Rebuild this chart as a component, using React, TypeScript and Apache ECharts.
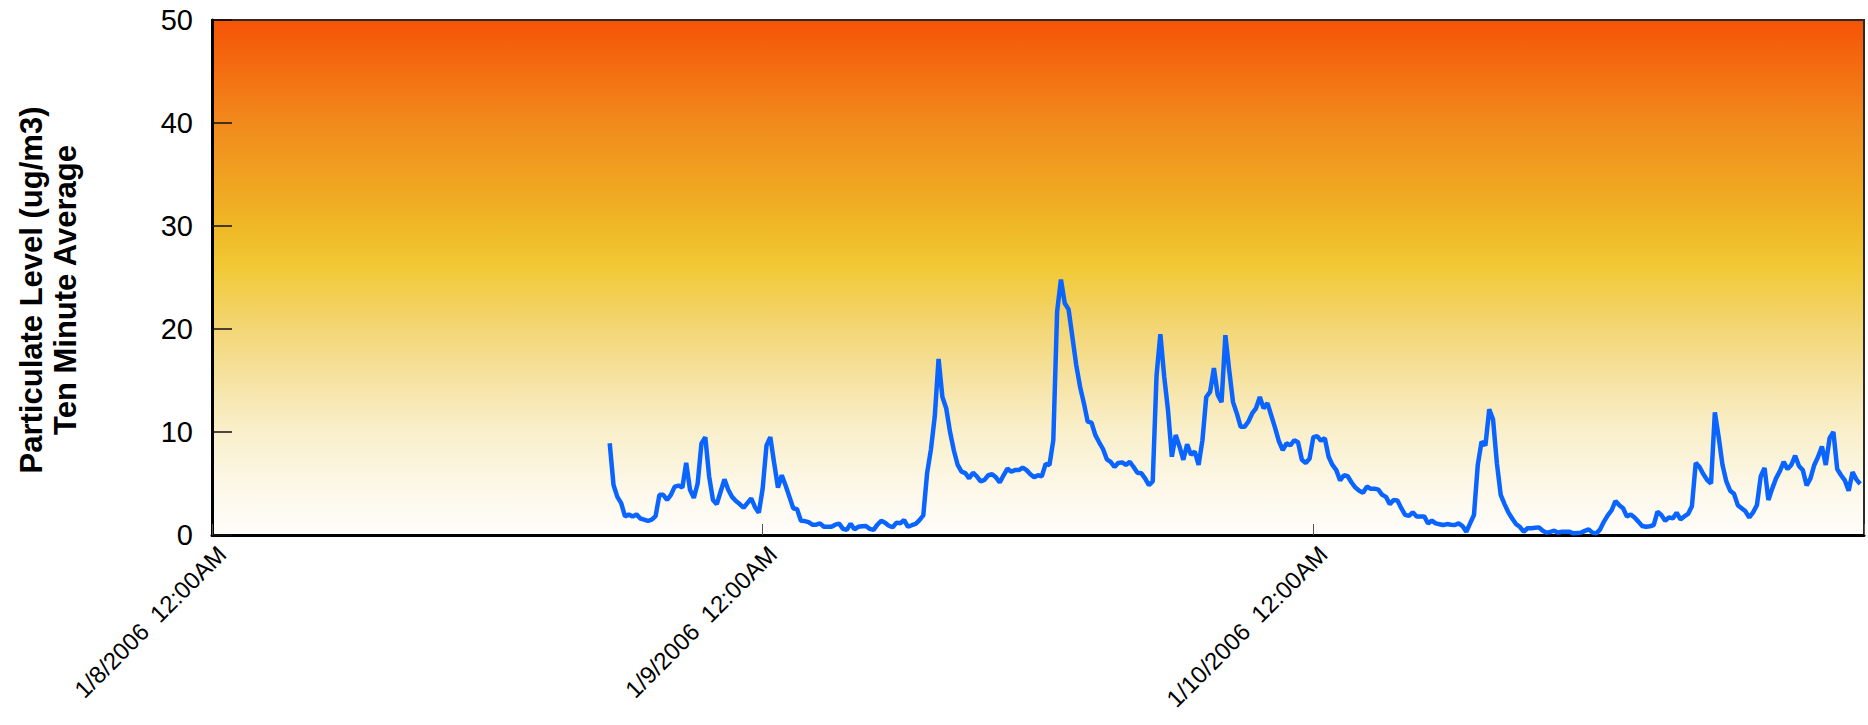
import React, { useEffect, useRef } from "react";
import * as echarts from "echarts";

// Ten-minute averages.
// 1/8/2006 from 17:20 to 23:50
const jan8Values = [
  8.9, 4.85, 3.7, 3.1, 1.8, 2.0, 1.8, 2.0, 1.6, 1.5,
  1.36, 1.5, 1.84, 3.9, 3.9, 3.4, 3.9, 4.7, 4.8, 4.6,
  7.0, 4.4, 3.6, 5.0, 8.9, 9.5, 5.7, 3.4, 3.0, 4.2,
  5.4, 4.4, 3.7, 3.3, 3.0, 2.65, 3.1, 3.55, 2.7, 2.17,
];
// 1/9/2006 from 00:00 to 23:50
const jan9Values = [
  4.5, 8.7, 9.5, 7.0, 4.6, 5.8, 4.8, 3.7, 2.6, 2.5,
  1.39, 1.35, 1.25, 1.0, 1.0, 1.13, 0.8, 0.8, 0.8, 1.0,
  1.1, 0.6, 0.5, 1.1, 0.55, 0.8, 0.85, 0.87, 0.6, 0.5,
  1.0, 1.39, 1.2, 0.9, 0.75, 1.2, 1.15, 1.45, 0.8, 0.95,
  1.07, 1.45, 1.9, 6.0, 8.3, 11.5, 17.1, 13.4, 12.3, 10.0,
  8.2, 6.8, 6.15, 6.0, 5.5, 6.05, 5.7, 5.2, 5.35, 5.8,
  5.9, 5.6, 5.1, 5.8, 6.45, 6.15, 6.3, 6.3, 6.55, 6.3,
  5.9, 5.6, 5.8, 5.7, 6.9, 6.8, 9.2, 21.7, 24.8, 22.5,
  21.9, 19.2, 16.5, 14.4, 12.8, 11.0, 10.9, 9.7, 9.0, 8.35,
  7.35, 7.1, 6.6, 7.0, 7.05, 6.8, 7.1, 6.6, 6.05, 6.0,
  5.5, 4.85, 5.2, 15.5, 19.5, 15.4, 12.1, 7.6, 9.7, 8.6,
  7.3, 8.8, 7.8, 8.1, 6.8, 9.2, 13.4, 13.9, 16.2, 13.6,
  12.9, 19.4, 16.0, 12.9, 11.8, 10.5, 10.5, 11.0, 11.8, 12.3,
  13.4, 12.3, 12.8, 11.6, 10.4, 9.1, 8.25, 8.9, 8.7, 9.2,
  9.0, 7.3, 7.0, 7.4,
];
// 1/10/2006 from 00:00 to 23:50
const jan10Values = [
  9.5, 9.6, 9.15, 9.4, 7.6, 6.8,
  6.3, 5.3, 5.8, 5.7, 5.1, 4.6, 4.3, 4.1, 4.7, 4.5,
  4.5, 4.4, 3.9, 3.7, 3.0, 3.4, 3.35, 2.6, 1.95, 1.85,
  2.2, 1.8, 1.8, 1.8, 1.13, 1.4, 1.13, 1.05, 0.97, 1.06,
  1.0, 0.97, 1.13, 0.87, 0.32, 1.13, 1.94, 6.8, 9.06, 8.7,
  12.2, 11.2, 6.96, 3.9, 3.0, 2.2, 1.6, 1.06, 0.8, 0.32,
  0.65, 0.65, 0.7, 0.74, 0.42, 0.23, 0.3, 0.42, 0.23, 0.32,
  0.32, 0.32, 0.16, 0.2, 0.23, 0.4, 0.55, 0.23, 0.16, 0.55,
  1.3, 1.9, 2.4, 3.3, 2.9, 2.6, 1.8, 2.0, 1.7, 1.3,
  0.87, 0.8, 0.85, 0.97, 2.26, 1.94, 1.39, 1.71, 1.61, 2.17,
  1.52, 1.8, 2.05, 2.8, 7.0, 6.6, 5.9, 5.34, 5.0, 11.9,
  9.5, 6.8, 5.2, 4.3, 4.0, 2.9, 2.6, 2.3, 1.7, 2.2,
  2.9, 5.7, 6.5, 3.4, 4.5, 5.5, 6.2, 7.1, 6.4, 6.8,
  7.7, 6.7, 6.3, 4.8, 5.5, 6.8, 7.6, 8.6, 6.8, 9.4,
  10.0, 6.4, 5.8, 5.3, 4.3, 6.1, 5.4, 4.95,
];

// hours from 1/8/2006 12:00AM at the start of each day, and first reading hour of that day
const days = [
  { values: jan8Values, dayOffset: 0, firstHour: 17 + 20 / 60 },
  { values: jan9Values, dayOffset: 24, firstHour: 0 },
  { values: jan10Values, dayOffset: 48, firstHour: 0 },
];

const xTickLabels = [
  "1/8/2006  12:00AM",
  "1/9/2006  12:00AM",
  "1/10/2006  12:00AM",
];
const yTicks = [0, 10, 20, 30, 40, 50];
const yTitle = "Particulate Level (ug/m3)\nTen Minute Average";

const FONT = "'Liberation Sans', Arial, Helvetica, sans-serif";

export default function App() {
  const ref = useRef<HTMLDivElement>(null);

  useEffect(() => {
    if (!ref.current) return;
    document.body.style.margin = "0";
    document.body.style.overflow = "hidden";
    const chart = echarts.init(ref.current, null, { renderer: "svg" });

    const data: number[][] = [];
    days.forEach((d) => {
      d.values.forEach((v, j) => {
        data.push([d.dayOffset + d.firstHour + j / 6, v]);
      });
    });

    chart.setOption({
      animation: false,
      backgroundColor: "#ffffff",
      grid: {
        left: 212,
        top: 20,
        right: 4,
        bottom: 190,
        outerBoundsMode: "none",
        containLabel: false,
        show: true,
        borderColor: "#2a2a2a",
        borderWidth: 2,
        backgroundColor: {
          type: "linear",
          x: 0,
          y: 0,
          x2: 0,
          y2: 1,
          colorStops: [
            { offset: 0, color: "#F55306" },
            { offset: 0.2, color: "#F18A1C" },
            { offset: 0.4, color: "#EFB725" },
            { offset: 0.48, color: "#F1C935" },
            { offset: 0.6, color: "#F3D676" },
            { offset: 0.7, color: "#F6E3A3" },
            { offset: 0.8, color: "#F9EFCB" },
            { offset: 0.9, color: "#FCF7E6" },
            { offset: 1, color: "#FFFDFC" },
          ],
        },
      },
      xAxis: {
        type: "value",
        min: 0,
        max: 72,
        interval: 24,
        axisLine: { show: true, onZero: false, lineStyle: { color: "#000", width: 3 } },
        axisTick: { show: true, inside: true, length: 11, lineStyle: { color: "#555", width: 1 } },
        splitLine: { show: false },
        axisLabel: {
          rotate: 45,
          margin: 25,
          padding: [0, -14, 0, 0],
          fontFamily: FONT,
          fontSize: 24,
          color: "#000",
          showMaxLabel: true,
          formatter: (v: number) => {
            const idx = Math.round(v / 24);
            return xTickLabels[idx] ?? "";
          },
        },
      },
      yAxis: {
        type: "value",
        min: yTicks[0],
        max: yTicks[yTicks.length - 1],
        interval: 10,
        name: yTitle,
        nameLocation: "middle",
        nameRotate: 90,
        nameGap: 130,
        nameTextStyle: {
          fontFamily: FONT,
          fontWeight: "bold",
          fontSize: 31,
          lineHeight: 34,
          color: "#000",
          padding: [0, 25, 0, 0],
        },
        axisLine: { show: true, lineStyle: { color: "#000", width: 3 } },
        axisTick: { show: true, inside: true, length: 20, lineStyle: { color: "#111", width: 1.5 } },
        splitLine: { show: false },
        axisLabel: {
          margin: 19,
          fontFamily: FONT,
          fontSize: 29,
          color: "#000",
        },
      },
      series: [
        {
          type: "line",
          data,
          showSymbol: false,
          symbol: "none",
          lineStyle: { color: "#0A64FF", width: 4.5 },
          z: 3,
        },
      ],
    });

    return () => chart.dispose();
  }, []);

  return (
    <div
      ref={ref}
      style={{ position: "fixed", left: 0, top: 0, width: 1868, height: 725 }}
    />
  );
}
